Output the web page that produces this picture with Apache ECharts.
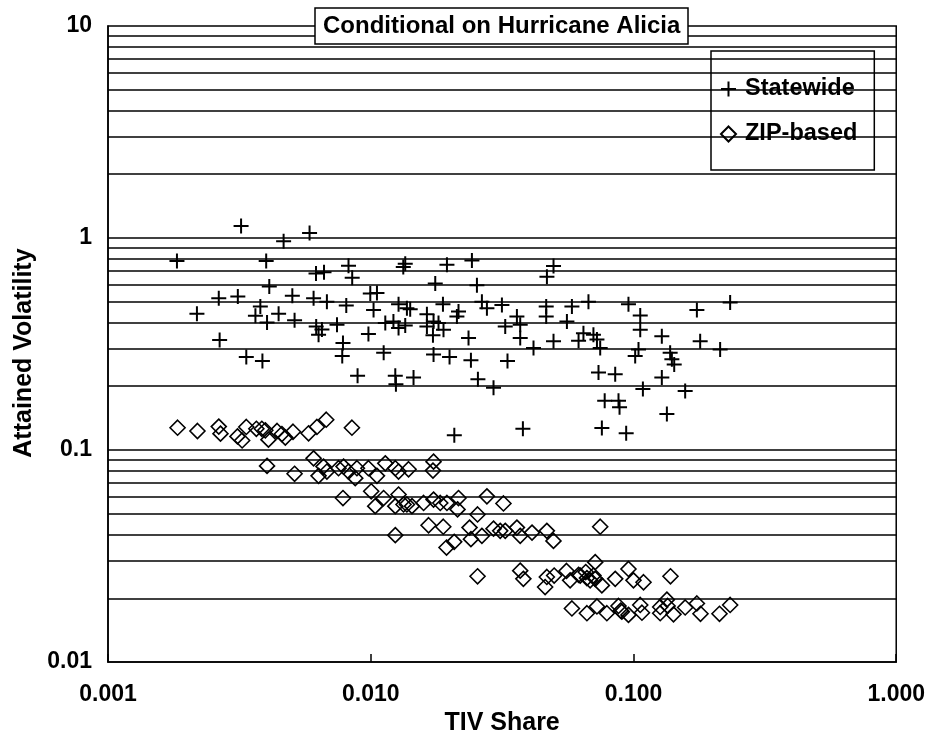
<!DOCTYPE html>
<html><head><meta charset="utf-8">
<script src="https://cdn.jsdelivr.net/npm/echarts@6/dist/echarts.min.js"></script>
<style>html,body{margin:0;padding:0;background:#fff}#c{width:928px;height:741px}</style>
</head><body><div id="c"></div>
<script>
const stateX = [0.00183,0.00218,0.00264,0.00312,0.00321,0.00266,0.00336,0.00364,0.0038,0.00387,0.0040,0.00403,0.00411,0.00446,0.00466,0.00503,0.00513,0.00585,0.00606,0.00619,0.0062,0.00633,0.00652,0.00664,0.00681,0.00744,0.00779,0.00784,0.00807,0.00823,0.0085,0.00891,0.0098,0.00996,0.01025,0.01056,0.0112,0.01136,0.0122,0.0124,0.01247,0.01276,0.01276,0.0133,0.01353,0.01373,0.01353,0.01413,0.01455,0.01636,0.01636,0.01734,0.01725,0.01734,0.0176,0.01811,0.01883,0.01892,0.0195,0.01995,0.0208,0.02128,0.02158,0.02356,0.02406,0.02427,0.02536,0.02558,0.02649,0.02768,0.02933,0.03157,0.0325,0.03315,0.036,0.03706,0.03706,0.03794,0.04164,0.04654,0.04654,0.04683,0.04962,0.04962,0.0558,0.0583,0.0618,0.0645,0.0674,0.0704,0.0726,0.0736,0.0747,0.0758,0.0777,0.0852,0.0877,0.0885,0.0938,0.0957,0.1015,0.1045,0.1061,0.1061,0.1086,0.1282,0.1282,0.134,0.1379,0.14,0.1429,0.1573,0.1743,0.1794,0.2137,0.2333];
const stateY = [0.78,0.44,0.52,0.53,1.14,0.33,0.275,0.43,0.475,0.263,0.78,0.40,0.59,0.44,0.965,0.535,0.41,1.055,0.52,0.68,0.383,0.35,0.37,0.69,0.50,0.39,0.278,0.32,0.48,0.74,0.65,0.224,0.353,0.548,0.458,0.55,0.2875,0.397,0.404,0.224,0.2045,0.487,0.376,0.73,0.756,0.466,0.387,0.461,0.22,0.437,0.383,0.404,0.348,0.282,0.61,0.397,0.487,0.369,0.748,0.275,0.1175,0.427,0.45,0.338,0.265,0.784,0.599,0.216,0.50,0.466,0.197,0.483,0.383,0.263,0.427,0.39,0.338,0.126,0.303,0.475,0.427,0.656,0.738,0.326,0.404,0.475,0.328,0.356,0.50,0.35,0.332,0.232,0.303,0.127,0.171,0.228,0.171,0.159,0.12,0.487,0.278,0.298,0.431,0.369,0.194,0.344,0.22,0.148,0.2875,0.268,0.2535,0.19,0.458,0.326,0.298,0.497];

const zipX = [0.00184,0.00219,0.00264,0.00268,0.00311,0.00324,0.00336,0.00367,0.00385,0.00397,0.00408,0.0044,0.00459,0.00473,0.00506,0.0058,0.00624,0.00677,0.00848,
0.00403,0.00513,0.00606,0.00633,0.00661,0.00681,0.00754,0.00788,0.00823,0.00886,0.00873,0.0098,0.01056,0.01136,0.0124,0.01276,0.01393,0.01734,0.01725,
0.00784,0.01004,0.0104,0.01119,0.01276,0.0124,0.01333,0.01373,0.01435,0.01589,0.01734,0.01839,0.0195,0.02158,0.0214,0.0255,0.02768,0.0320,
0.0124,0.0166,0.01888,0.01943,0.02078,0.02377,0.02406,0.02649,0.02933,0.0311,0.0325,0.036,0.03706,0.0411,0.0468,0.0496,0.0747,
0.0255,0.03706,0.0381,0.0461,0.0468,0.0499,0.0556,0.0574,0.0618,0.0627,0.0658,0.0665,0.0715,0.0715,0.0684,0.0704,0.0758,0.0852,0.0957,0.100,0.1092,0.1383,
0.0583,0.0665,0.0726,0.0792,0.0877,0.0894,0.0903,0.0957,0.1061,0.1077,0.1264,0.1264,0.134,0.1349,0.142,0.1573,0.1743,0.1799,0.2125,0.2333];
const zipY = [0.1275,0.123,0.129,0.1195,0.116,0.111,0.1285,0.126,0.126,0.124,0.112,0.123,0.119,0.1145,0.122,0.12,0.1285,0.139,0.1275,
0.0842,0.0773,0.0914,0.0756,0.0836,0.0792,0.0821,0.0836,0.0792,0.0821,0.0737,0.0821,0.0756,0.0866,0.0821,0.0792,0.0812,0.0882,0.080,
0.0594,0.0639,0.0544,0.0594,0.0617,0.0544,0.0554,0.0554,0.0544,0.0563,0.0584,0.0563,0.0563,0.0594,0.0525,0.0497,0.0605,0.056,
0.0397,0.0442,0.0435,0.0347,0.0369,0.0431,0.038,0.0394,0.0426,0.0416,0.0416,0.0431,0.0394,0.0408,0.0416,0.0373,0.0435,
0.0254,0.027,0.0247,0.0226,0.0252,0.0256,0.0269,0.0243,0.0258,0.0256,0.0266,0.0249,0.0296,0.0247,0.0243,0.0256,0.023,0.0247,0.0275,0.0243,0.0238,0.0254,
0.0179,0.017,0.0183,0.017,0.0184,0.0175,0.0173,0.0167,0.0186,0.0171,0.017,0.0182,0.0197,0.0184,0.0168,0.0181,0.0189,0.0169,0.0169,0.0186];

const gridValues = [0.02,0.03,0.04,0.05,0.06,0.07,0.08,0.09,0.1,0.2,0.3,0.4,0.5,0.6,0.7,0.8,0.9,1,2,3,4,5,6,7,8,9];
const xTickLabels = ['0.001','0.010','0.100','1.000'];
const yTickLabels = ['0.01','0.1','1','10'];
const seriesNames = ['Statewide','ZIP-based'];
const titleText = 'Conditional on Hurricane Alicia';

const FONT = '"Liberation Sans", Arial, sans-serif';
const plusPath = 'path://M0,13L30,13L30,17L0,17Z M13,0L17,0L17,30L13,30Z';

const stateData = stateX.map((x,i)=>[x,stateY[i]]);
const zipData = zipX.map((x,i)=>[x,zipY[i]]);

const chart = echarts.init(document.getElementById('c'), null, {renderer:'canvas'});
chart.setOption({
  animation:false,
  backgroundColor:'#fff',
  textStyle:{fontFamily:FONT},
  title:{
    text:titleText, left:315, top:8,
    backgroundColor:'#fff', borderColor:'#000', borderWidth:1.5,
    padding:[6,8,6,8],
    textStyle:{fontFamily:FONT,fontWeight:'bold',fontSize:24,color:'#000'}
  },
  legend:{
    orient:'vertical', left:711, top:51,
    data:seriesNames,
    backgroundColor:'#fff', borderColor:'#000', borderWidth:1.5,
    padding:[26,17,24,9], itemGap:21, itemWidth:15, itemHeight:15,
    textStyle:{fontFamily:FONT,fontWeight:'bold',fontSize:23.5,color:'#000',padding:[0,0,0,4]}
  },
  grid:{left:108,top:26,width:789,height:643,show:true,borderColor:'#000',borderWidth:1.5,backgroundColor:'transparent'},
  xAxis:{
    type:'log', logBase:10, min:0.001, max:1,
    name:'TIV Share', nameLocation:'middle', nameGap:43,
    nameTextStyle:{fontFamily:FONT,fontWeight:'bold',fontSize:25,color:'#000'},
    axisLine:{show:true,lineStyle:{color:'#000',width:1.5}},
    axisTick:{show:true,inside:true,length:8,lineStyle:{color:'#000',width:1.5}},
    minorTick:{show:false}, splitLine:{show:false},
    axisLabel:{margin:21,fontFamily:FONT,fontWeight:'bold',fontSize:23,color:'#000',
      formatter:v=>xTickLabels[Math.round(Math.log10(v))+3]}
  },
  yAxis:{
    type:'log', logBase:10, min:0.01, max:10,
    name:'Attained Volatility', nameLocation:'middle', nameGap:71,
    nameTextStyle:{fontFamily:FONT,fontWeight:'bold',fontSize:25,color:'#000',padding:[0,18,0,0]},
    axisLine:{show:true,lineStyle:{color:'#000',width:1.5}},
    axisTick:{show:false}, splitLine:{show:false},
    axisLabel:{margin:16,fontFamily:FONT,fontWeight:'bold',fontSize:23,color:'#000',padding:[0,0,6,0],
      formatter:v=>yTickLabels[Math.round(Math.log10(v))+2]}
  },
  series:[
    {
      name:seriesNames[0], type:'scatter', data:stateData,
      symbol:plusPath, symbolSize:15,
      itemStyle:{color:'#000',opacity:1},
      markLine:{
        silent:true, symbol:['none','none'], label:{show:false},
        lineStyle:{color:'#000',width:1.5,type:'solid'},
        data:gridValues.map(v=>({yAxis:v}))
      },
      z:3
    },
    {
      name:seriesNames[1], type:'scatter', data:zipData,
      symbol:'diamond', symbolSize:15,
      itemStyle:{color:'rgba(255,255,255,0)',borderColor:'#000',borderWidth:1.6,opacity:1},
      z:3
    }
  ]
});
</script></body></html>
